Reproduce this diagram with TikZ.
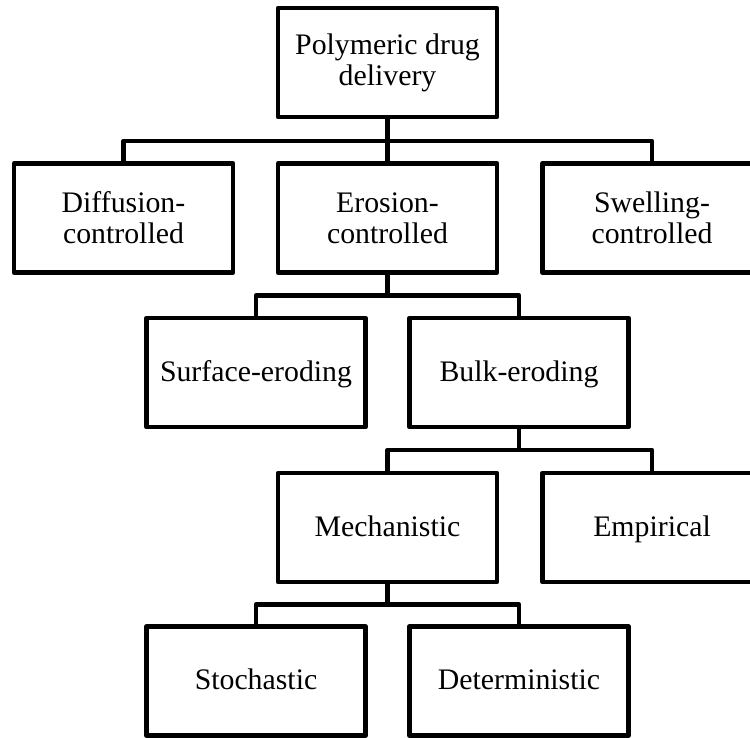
\documentclass[tikz,border=0pt]{standalone}
\usepackage{fontspec}
\setmainfont{Liberation Serif}
\begin{document}
\begin{tikzpicture}[x=1pt,y=-1pt,
  boxbase/.style={draw, line width=4.5pt, line join=round, minimum width=219pt, minimum height=109pt,
    inner sep=0pt, align=center, font=\fontsize{29.8pt}{31pt}\selectfont},
  onebox/.style={boxbase, text height=21pt, text depth=4pt},
  twobox/.style={boxbase},
  conn/.style={line width=4.5pt, line join=round}]
\useasboundingbox (0,0) rectangle (750,737);
\clip (0,0) rectangle (750,737);
\fill[white] (0,0) rectangle (750,737);
\node[twobox] (top) at (387.5,62.5) {Polymeric drug\\delivery};
\node[twobox] (dif) at (123.5,218) {Diffusion-\\controlled};
\node[twobox] (ero) at (387.5,218) {Erosion-\\controlled};
\node[twobox] (swe) at (652,218) {Swelling-\\controlled};
\node[onebox] (sur) at (256,372.5) {Surface-eroding};
\node[onebox] (bul) at (519,372.5) {Bulk-eroding};
\node[onebox] (mec) at (387.5,527.5) {Mechanistic};
\node[onebox] (emp) at (652,527.5) {Empirical};
\node[onebox] (sto) at (256,681) {Stochastic};
\node[onebox] (det) at (519,681) {Deterministic};
\coordinate (b1) at (0,141);
\coordinate (b2) at (0,295.5);
\coordinate (b3) at (0,450);
\coordinate (b4) at (0,604.5);
\draw[conn] (top.south) -- (top.south |- b1);
\draw[conn] (dif.north) -- (dif.north |- b1) -- (swe.north |- b1) -- (swe.north);
\draw[conn] (ero.north) -- (ero.north |- b1);
\draw[conn] (ero.south) -- (ero.south |- b2);
\draw[conn] (sur.north) -- (sur.north |- b2) -- (bul.north |- b2) -- (bul.north);
\draw[conn] (bul.south) -- (bul.south |- b3);
\draw[conn] (mec.north) -- (mec.north |- b3) -- (emp.north |- b3) -- (emp.north);
\draw[conn] (mec.south) -- (mec.south |- b4);
\draw[conn] (sto.north) -- (sto.north |- b4) -- (det.north |- b4) -- (det.north);
\end{tikzpicture}
\end{document}
